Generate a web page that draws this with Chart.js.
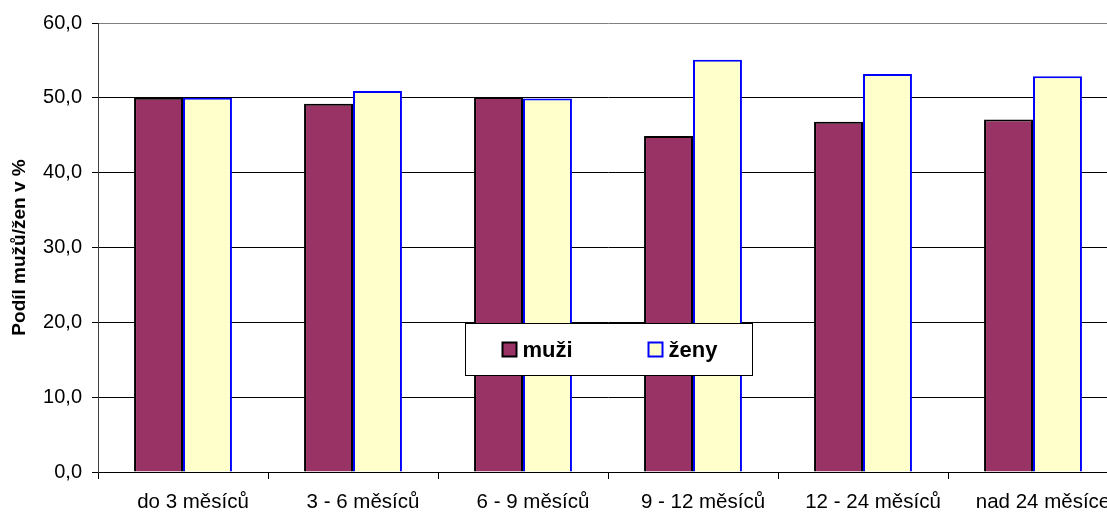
<!DOCTYPE html>
<html>
<head>
<meta charset="utf-8">
<script src="https://cdn.jsdelivr.net/npm/chart.js@4/dist/chart.umd.min.js"></script>
<style>
  html, body { margin: 0; padding: 0; background: #fff; overflow: hidden; }
  #wrap { position: relative; width: 1120px; height: 512px; }
</style>
</head>
<body>
<div id="wrap"><canvas id="chart"></canvas></div>
<script>
// categories and series
const categories = ['do 3 měsíců', '3 - 6 měsíců', '6 - 9 měsíců', '9 - 12 měsíců', '12 - 24 měsíců', 'nad 24 měsíce'];
const muzi = [50.0, 49.2, 50.1, 44.9, 46.8, 47.1];
const zeny = [50.0, 50.9, 49.9, 55.1, 53.2, 52.9];
const yTicks = [0, 10, 20, 30, 40, 50, 60];

const FONT = '"Liberation Sans", Arial, sans-serif';

// legend box drawn in the middle of the plot like the original
const boxLegend = {
    id: 'boxLegend',
    afterDatasetsDraw(chart) {
        const ctx = chart.ctx;
        const area = chart.chartArea;
        const w = 287, h = 52;
        const x = Math.round(area.left + (area.width - w) / 2) + 0.5;
        const y = Math.round(area.top + 300) + 0.5;
        ctx.save();
        ctx.fillStyle = '#ffffff';
        ctx.fillRect(x, y, w, h);
        ctx.strokeStyle = '#000000';
        ctx.lineWidth = 1;
        ctx.strokeRect(x, y, w, h);
        ctx.font = 'bold 22px ' + FONT;
        ctx.textBaseline = 'middle';
        const offsets = [37, 183];
        chart.data.datasets.forEach((ds, i) => {
            const mx = x + offsets[i], my = y + 19;
            ctx.fillStyle = ds.backgroundColor;
            ctx.fillRect(mx, my, 14, 14);
            ctx.strokeStyle = ds.borderColor;
            ctx.lineWidth = 2;
            ctx.strokeRect(mx, my, 14, 14);
            ctx.fillStyle = '#000000';
            ctx.fillText(ds.label, mx + 20, my + 8);
        });
        ctx.restore();
    }
};

new Chart(document.getElementById('chart'), {
    type: 'bar',
    data: {
        labels: categories,
        datasets: [
            { label: 'muži', data: muzi, backgroundColor: '#993366', borderColor: '#000000', borderWidth: 2 },
            { label: 'ženy', data: zeny, backgroundColor: '#FFFFCC', borderColor: '#0000FF', borderWidth: 2 }
        ]
    },
    options: {
        responsive: true,
        maintainAspectRatio: false,
        animation: false,
        categoryPercentage: 0.576,
        barPercentage: 1.0,
        layout: { padding: { top: 23, right: 2, bottom: 0, left: 0 } },
        plugins: {
            legend: { display: false },
            tooltip: { enabled: false }
        },
        scales: {
            x: {
                offset: true,
                grid: { display: true, drawOnChartArea: false, drawTicks: true, tickLength: 7, color: '#000000' },
                border: { display: true, color: '#000000', width: 1 },
                ticks: { color: '#000000', font: { family: FONT, size: 20.5 }, padding: 11, labelOffset: 10, maxRotation: 0, autoSkip: false },
                afterFit(scale) { scale.height = 40; }
            },
            y: {
                min: 0,
                max: 60,
                afterBuildTicks(scale) { scale.ticks = yTicks.map(v => ({ value: v })); },
                grid: {
                    color: ctx => (ctx.tick && ctx.tick.value === 60) ? '#808080' : '#000000',
                    lineWidth: 1,
                    tickLength: 6,
                    tickColor: '#000000'
                },
                border: { display: true, color: '#404040', width: 1 },
                ticks: {
                    color: '#000000',
                    font: { family: FONT, size: 20 },
                    padding: 10,
                    callback: v => v.toFixed(1).replace('.', ',')
                },
                title: {
                    display: true,
                    text: 'Podíl mužů/žen v %',
                    color: '#000000',
                    font: { family: FONT, size: 19, weight: 'bold' },
                    padding: { top: 8, bottom: 0 }
                },
                afterFit(scale) { scale.width = 98; }
            }
        }
    },
    plugins: [boxLegend]
});
</script>
</body>
</html>
